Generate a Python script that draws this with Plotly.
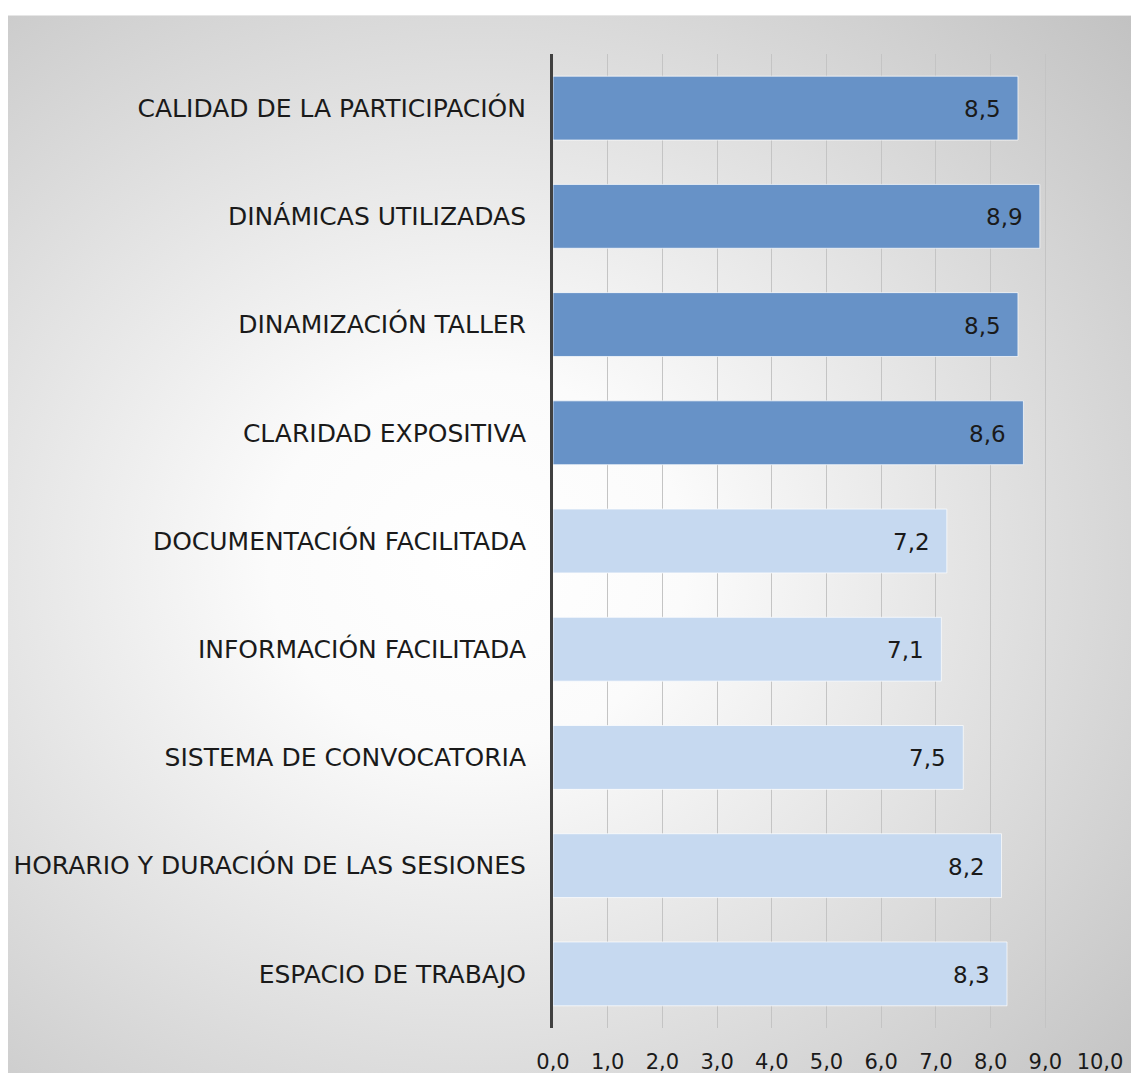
import base64
import plotly.graph_objects as go

# Survey scores per workshop aspect (top to bottom as drawn)
categories = [
    "CALIDAD DE LA PARTICIPACIÓN",
    "DINÁMICAS UTILIZADAS",
    "DINAMIZACIÓN TALLER",
    "CLARIDAD EXPOSITIVA",
    "DOCUMENTACIÓN FACILITADA",
    "INFORMACIÓN FACILITADA",
    "SISTEMA DE CONVOCATORIA",
    "HORARIO Y DURACIÓN DE LAS SESIONES",
    "ESPACIO DE TRABAJO",
]
scores = [8.5, 8.9, 8.5, 8.6, 7.2, 7.1, 7.5, 8.2, 8.3]
# First four items belong to the facilitation group (darker blue)
groups = ["dinamización"] * 4 + ["organización"] * 5
tick_values = [0, 1, 2, 3, 4, 5, 6, 7, 8, 9, 10]
tick_labels = ["0,0", "1,0", "2,0", "3,0", "4,0", "5,0", "6,0", "7,0", "8,0", "9,0", "10,0"]

group_colors = {"dinamización": "#6792c7", "organización": "#c6d9f0"}
bar_colors = [group_colors[g] for g in groups]

W, H = 1131, 1073
ML, MR, MT, MB = 553, 31, 54, 45
PW, PH = W - ML - MR, H - MT - MB
FONT = "DejaVu Sans"
INK = "#1a1a1a"

# Radial grey-to-white backdrop behind the whole chart block
svg = f"""<svg xmlns='http://www.w3.org/2000/svg' width='1123' height='1058' viewBox='0 0 1123 1058'>
<defs><radialGradient id='g' gradientUnits='userSpaceOnUse' cx='470' cy='545' r='850'
 gradientTransform='translate(470 545) scale(1.12 1) translate(-470 -545)'>
<stop offset='0' stop-color='#ffffff'/><stop offset='0.22' stop-color='#fbfbfb'/>
<stop offset='1' stop-color='#bdbdbd'/></radialGradient></defs>
<rect x='0' y='0' width='1123' height='1058' fill='url(#g)'/>
<line x1='0' y1='0.5' x2='1123' y2='0.5' stroke='#e6e6e6' stroke-width='1'/>
</svg>"""
bg_uri = "data:image/svg+xml;base64," + base64.b64encode(svg.encode()).decode()

fig = go.Figure(
    go.Bar(
        x=scores,
        y=categories,
        orientation="h",
        marker=dict(color=bar_colors, line=dict(color="rgba(255,255,255,0.7)", width=1)),
        hoverinfo="skip",
    )
)

# Value labels sit inside each bar, a little in from its end
for cat, val in zip(categories, scores):
    fig.add_annotation(
        x=val, y=cat, xref="x", yref="y",
        text=f"{val:.1f}".replace(".", ","),
        showarrow=False, xanchor="right", yanchor="middle",
        xshift=-15, yshift=-1,
        font=dict(family=FONT, size=23, color=INK),
    )

fig.add_layout_image(
    source=bg_uri,
    xref="paper", yref="paper",
    x=(8 - ML) / PW, y=(H - MB - 15) / PH,
    sizex=(W - 8) / PW, sizey=(H - 15) / PH,
    xanchor="left", yanchor="top",
    sizing="stretch", layer="below",
)

fig.update_layout(
    width=W, height=H,
    margin=dict(l=ML, r=MR, t=MT, b=MB, autoexpand=False),
    paper_bgcolor="#ffffff",
    plot_bgcolor="rgba(0,0,0,0)",
    bargap=0.41,
    showlegend=False,
    font=dict(family=FONT, color=INK),
    xaxis=dict(
        range=[0, 10],
        tickvals=tick_values,
        ticktext=tick_labels,
        showgrid=True,
        gridcolor="#c4c4c4",
        gridwidth=1,
        zeroline=False,
        showline=False,
        ticks="",
        tickfont=dict(family=FONT, size=21, color=INK),
        ticklabelstandoff=19,
        fixedrange=True,
    ),
    yaxis=dict(
        categoryorder="array",
        categoryarray=categories[::-1],
        autorange=False,
        range=[-0.5, len(categories) - 0.5],
        showline=True,
        linecolor="#404040",
        linewidth=3,
        showgrid=False,
        zeroline=False,
        ticks="",
        tickfont=dict(family=FONT, size=25, color=INK),
        ticklabelstandoff=19,
        fixedrange=True,
    ),
)

fig.write_html("out.html")
